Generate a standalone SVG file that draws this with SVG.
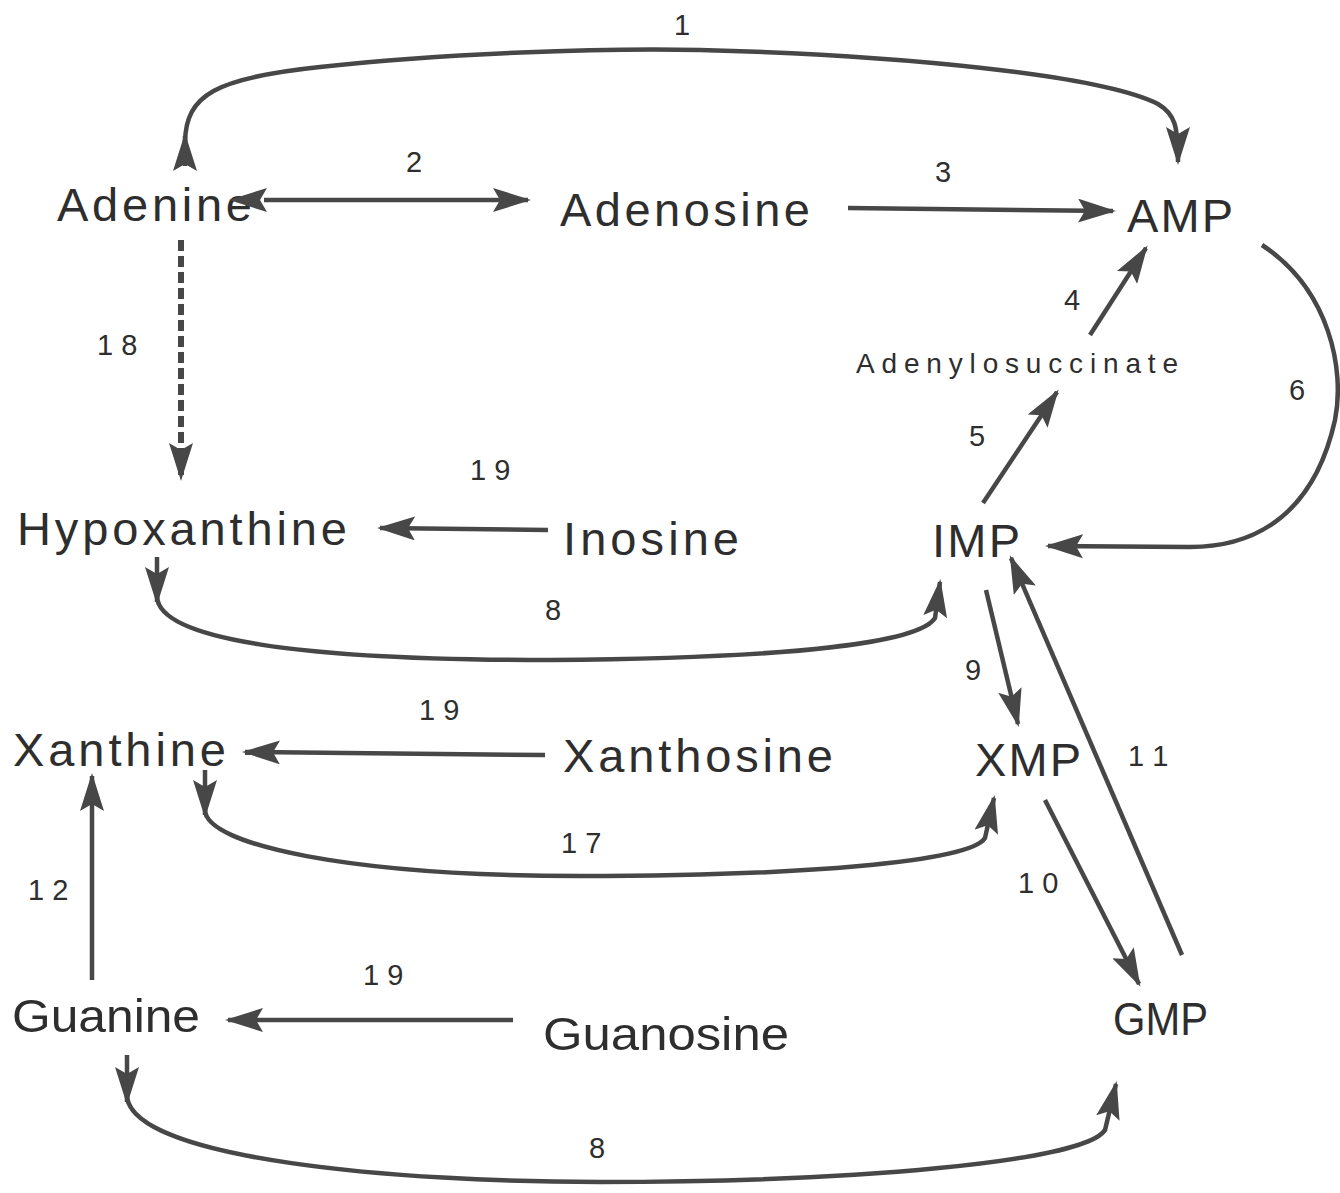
<svg xmlns="http://www.w3.org/2000/svg" width="1340" height="1193" viewBox="0 0 1340 1193">
<defs>
<marker id="ah" viewBox="0 0 38 24" markerUnits="userSpaceOnUse" markerWidth="38" markerHeight="24" preserveAspectRatio="none" refX="35" refY="12" orient="auto">
<path d="M0,0 L38,12 L0,24 L7,12 z" fill="#474747"/>
</marker>
<marker id="ahs" viewBox="0 0 38 24" markerUnits="userSpaceOnUse" markerWidth="38" markerHeight="24" preserveAspectRatio="none" refX="3" refY="12" orient="auto-start-reverse">
<path d="M0,0 L38,12 L0,24 L7,12 z" fill="#474747"/>
</marker>
</defs>
<style>
.n{font-family:"Liberation Sans",Arial,sans-serif;fill:#2e2e2e;font-size:47px}
.s{font-family:"Liberation Sans",Arial,sans-serif;fill:#2e2e2e;font-size:28px}
.l{font-family:"Liberation Sans",Arial,sans-serif;fill:#2e2e2e;font-size:29px}
.c{fill:none;stroke:#474747;stroke-width:4.5}
.a{marker-end:url(#ah)}
.d{stroke-dasharray:11 5;stroke-width:6}
</style>
<rect width="1340" height="1193" fill="#ffffff"/>
<g id="node-adenine"><text class="n" x="57" y="221" textLength="195" lengthAdjust="spacing">Adenine</text></g>
<g id="node-adenosine"><text class="n" x="560" y="226" textLength="250" lengthAdjust="spacing">Adenosine</text></g>
<g id="node-amp"><text class="n" x="1127" y="232" textLength="106" lengthAdjust="spacing">AMP</text></g>
<g id="node-adenylosuccinate"><text class="s" x="856" y="373" textLength="322" lengthAdjust="spacing">Adenylosuccinate</text></g>
<g id="node-hypoxanthine"><text class="n" x="17" y="545" textLength="330" lengthAdjust="spacing">Hypoxanthine</text></g>
<g id="node-inosine"><text class="n" x="563" y="555" textLength="176" lengthAdjust="spacing">Inosine</text></g>
<g id="node-imp"><text class="n" x="932" y="557" textLength="88" lengthAdjust="spacing">IMP</text></g>
<g id="node-xanthine"><text class="n" x="13" y="766" textLength="213" lengthAdjust="spacing">Xanthine</text></g>
<g id="node-xanthosine"><text class="n" x="563" y="772" textLength="270" lengthAdjust="spacing">Xanthosine</text></g>
<g id="node-xmp"><text class="n" x="975" y="776" textLength="106" lengthAdjust="spacing">XMP</text></g>
<g id="node-guanine"><text class="n" x="12" y="1032" textLength="188" lengthAdjust="spacingAndGlyphs">Guanine</text></g>
<g id="node-guanosine"><text class="n" x="543" y="1050" textLength="246" lengthAdjust="spacingAndGlyphs">Guanosine</text></g>
<g id="node-gmp"><text class="n" x="1113" y="1035" textLength="95" lengthAdjust="spacingAndGlyphs">GMP</text></g>
<g id="connectors">
<path class="c a" d="M185,166 L185,136"/>
<path class="c a" d="M185,142 C186,95 215,78 320,67 C450,53 600,48 700,50 C900,55 1100,75 1158,104 C1175,114 1178,126 1178,162"/>
<path class="c a" d="M264,200 L528,200" marker-start="url(#ahs)"/>
<path class="c a" d="M848,208 L1113,211"/>
<path class="c a" d="M1090,335 L1146,248"/>
<path class="c a" d="M983,503 L1057,392"/>
<path class="c a" d="M1262,245 C1330,290 1345,370 1335,420 C1315,510 1260,547 1190,547 L1048,546"/>
<path class="c a d" d="M181,240 L181,478"/>
<path class="c a" d="M548,530 L380,528"/>
<path class="c a" d="M157,557 L157,602"/>
<path class="c a" d="M157,597 C160,640 300,660 550,660 C800,658 920,642 935,618 L940,582"/>
<path class="c a" d="M986,590 L1018,724"/>
<path class="c a" d="M1182,955 L1011,558"/>
<path class="c a" d="M1045,800 L1139,984"/>
<path class="c a" d="M545,755 L245,752"/>
<path class="c a" d="M205,770 L205,815"/>
<path class="c a" d="M205,810 C206,845 350,876 580,876 C800,876 970,862 985,838 L994,798"/>
<path class="c a" d="M92,980 L92,776"/>
<path class="c a" d="M513,1020 L228,1020"/>
<path class="c a" d="M127,1055 L127,1102"/>
<path class="c a" d="M127,1097 C135,1160 400,1182 600,1182 C850,1182 1085,1162 1105,1130 L1116,1084"/>
<text class="l" x="682" y="35" text-anchor="middle">1</text>
<text class="l" x="414" y="172" text-anchor="middle">2</text>
<text class="l" x="943" y="182" text-anchor="middle">3</text>
<text class="l" x="1072" y="310" text-anchor="middle">4</text>
<text class="l" x="97" y="355">1 8</text>
<text class="l" x="1297" y="400" text-anchor="middle">6</text>
<text class="l" x="977" y="446" text-anchor="middle">5</text>
<text class="l" x="470" y="480">1 9</text>
<text class="l" x="553" y="620" text-anchor="middle">8</text>
<text class="l" x="973" y="680" text-anchor="middle">9</text>
<text class="l" x="419" y="720">1 9</text>
<text class="l" x="1128" y="766">1 1</text>
<text class="l" x="561" y="853">1 7</text>
<text class="l" x="1018" y="893">1 0</text>
<text class="l" x="28" y="900">1 2</text>
<text class="l" x="363" y="985">1 9</text>
<text class="l" x="597" y="1158" text-anchor="middle">8</text>
</g>
</svg>
